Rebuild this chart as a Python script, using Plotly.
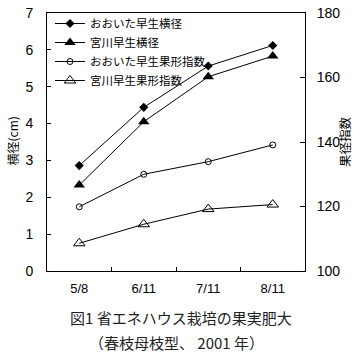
import plotly.graph_objects as go

dates = ["5/8", "6/11", "7/11", "8/11"]
oita_width = [2.86, 4.44, 5.56, 6.12]
miyagawa_width = [2.33, 4.05, 5.27, 5.83]
oita_index = [119.9, 130.0, 133.9, 139.1]
miyagawa_index = [108.6, 114.5, 119.2, 120.6]

names = ["おおいた早生横径", "宮川早生横径", "おおいた早生果形指数", "宮川早生果形指数"]

font_jp = "Noto Sans CJK JP"
num_font = "Liberation Sans Narrow, Liberation Sans, sans-serif"

W, H = 360, 357
l, r, t, b = 47, 55, 13, 86
pw, ph = W - l - r, H - t - b


def px(x):
    return (x - l) / pw


def py(y):
    return (H - b - y) / ph


fig = go.Figure()
line = dict(color="black", width=1)
fig.add_trace(go.Scatter(x=dates, y=oita_width, name=names[0], mode="lines+markers",
                         line=line, marker=dict(symbol="diamond", size=7, color="black")))
fig.add_trace(go.Scatter(x=dates, y=miyagawa_width, name=names[1], mode="lines+markers",
                         line=line, marker=dict(symbol="triangle-up", size=10, color="black")))
fig.add_trace(go.Scatter(x=dates, y=oita_index, name=names[2], mode="lines+markers", yaxis="y2",
                         line=line, marker=dict(symbol="circle-open", size=6, color="black", line=dict(width=1))))
fig.add_trace(go.Scatter(x=dates, y=miyagawa_index, name=names[3], mode="lines+markers", yaxis="y2",
                         line=line, marker=dict(symbol="triangle-up-open", size=10, color="black", line=dict(width=1))))

fig.update_layout(
    width=W, height=H,
    margin=dict(l=l, r=r, t=t, b=b, autoexpand=False),
    paper_bgcolor="white", plot_bgcolor="white",
    font=dict(family=num_font, size=13, color="black"),
    showlegend=True,
    legend=dict(x=px(50), y=py(9), xanchor="left", yanchor="top", bgcolor="rgba(0,0,0,0)",
                font=dict(family=font_jp, size=11.5), tracegroupgap=0, itemwidth=30,
                borderwidth=0),
    xaxis=dict(type="category", range=[-0.5, 3.5], showline=True, linecolor="black", linewidth=1,
               mirror=True, ticks="inside", tickson="boundaries", ticklen=4, tickcolor="black",
               showgrid=False, zeroline=False, tickfont=dict(size=13), ticklabelstandoff=5,
               automargin=False),
    yaxis=dict(range=[0, 7], dtick=1, showline=True, linecolor="black", linewidth=1,
               ticks="inside", ticklen=4, tickcolor="black", showgrid=False, zeroline=False,
               tickfont=dict(size=14), automargin=False, ticklabelstandoff=10,
               ticklabeloverflow="allow"),
    yaxis2=dict(range=[100, 180], dtick=20, overlaying="y", side="right", showline=True,
                linecolor="black", linewidth=1, ticks="inside", ticklen=5, tickcolor="black",
                showgrid=False, zeroline=False, tickfont=dict(size=14), automargin=False,
                ticklabelstandoff=8, ticklabeloverflow="allow"),
)

ann = dict(xref="paper", yref="paper", showarrow=False, xanchor="center", yanchor="middle")
fig.add_annotation(text="横径(cm)", x=px(11.5), y=py(141), textangle=-90,
                   font=dict(family=font_jp, size=12), **ann)
fig.add_annotation(text="果径指数", x=px(344), y=py(142), textangle=-90,
                   font=dict(family=font_jp, size=12.5), **ann)
fig.add_annotation(text="図1 省エネハウス栽培の果実肥大", x=px(181), y=py(318),
                   font=dict(family=font_jp, size=15, color="#222222"), **ann)
fig.add_annotation(text="（春枝母枝型、 2001 年）", x=px(176), y=py(342),
                   font=dict(family=font_jp, size=15, color="#222222"), **ann)

fig.write_html("out.html", config={"displayModeBar": False, "staticPlot": True},
               post_script="document.body.style.margin='0';document.body.style.padding='0';")
